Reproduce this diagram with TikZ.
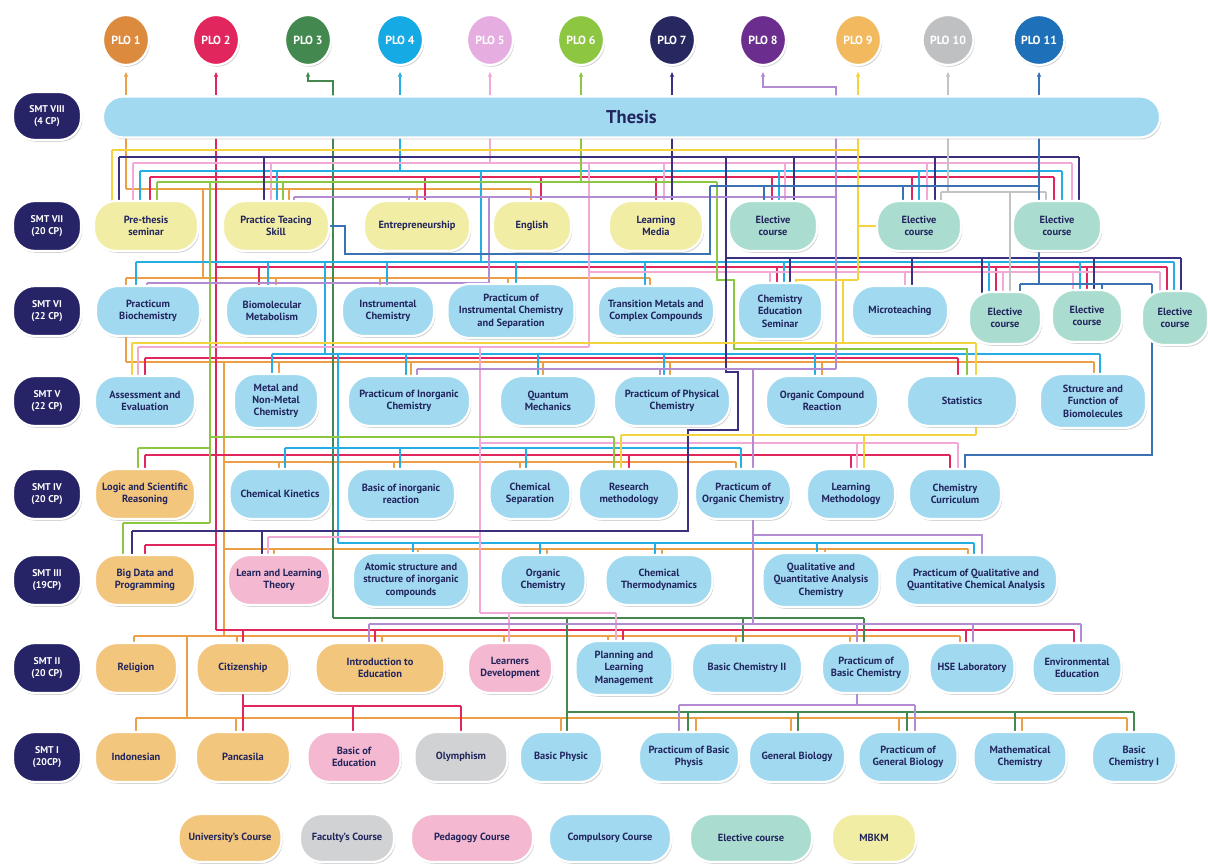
\documentclass[tikz,border=0pt]{standalone}
\usepackage{fontspec}
\setmainfont{PT Sans}
\usetikzlibrary{shapes.geometric,shadows,arrows.meta}

% fills
\definecolor{ink}{HTML}{23265E}
\definecolor{semC}{HTML}{262466}
\definecolor{compC}{HTML}{A0D9F0}
\definecolor{univC}{HTML}{F3C67E}
\definecolor{facC}{HTML}{D1D2D4}
\definecolor{pedC}{HTML}{F4B8D0}
\definecolor{elecC}{HTML}{AADDD0}
\definecolor{mbkmC}{HTML}{F2EDA4}
% learning-outcome colours
\definecolor{P1}{HTML}{DC8A3E}
\definecolor{P2}{HTML}{E0265C}
\definecolor{P3}{HTML}{43894F}
\definecolor{P4}{HTML}{15AAE3}
\definecolor{P5}{HTML}{E6AEE0}
\definecolor{P6}{HTML}{8DC641}
\definecolor{P7}{HTML}{26285F}
\definecolor{P8}{HTML}{6B2E8E}
\definecolor{P9}{HTML}{F3B95E}
\definecolor{P10}{HTML}{BFC0C2}
\definecolor{P11}{HTML}{1E71B8}
% connector colours
\definecolor{L1}{HTML}{EBA047}
\definecolor{L2}{HTML}{E0265C}
\definecolor{L3}{HTML}{43894F}
\definecolor{L4}{HTML}{24AEE4}
\definecolor{L5}{HTML}{F2A9D6}
\definecolor{L6}{HTML}{8DC641}
\definecolor{L7}{HTML}{3B2F80}
\definecolor{L8}{HTML}{B38BD3}
\definecolor{L9}{HTML}{F5D33F}
\definecolor{L10}{HTML}{C3C3C3}
\definecolor{L11}{HTML}{3A72B4}

\pgfdeclarelayer{bg}
\pgfsetlayers{bg,main}

% a course node: style, name, x, y, width, height, text
\newcommand\crs[7]{\node[#1, minimum width=#5pt, minimum height=#6pt] (#2) at (#3,#4) {#7};}
% a horizontal bus with drops into nodes: style, y, x from, x to, list x/node
\newcommand\busline[5]{%
  \draw[#1] (#3,#2) -- (#4,#2);
  \foreach \xx/\nn in {#5} {\draw[#1] (\xx,#2) |- (\nn.center);}}

\begin{document}
\begin{tikzpicture}[x=1pt,y=-1pt,
  ln/.style={line width=1.5pt},
  l1/.style={ln,draw=L1}, l2/.style={ln,draw=L2}, l3/.style={ln,draw=L3},
  l4/.style={ln,draw=L4}, l5/.style={ln,draw=L5}, l6/.style={ln,draw=L6},
  l7/.style={ln,draw=L7}, l8/.style={ln,draw=L8}, l9/.style={ln,draw=L9},
  l10/.style={ln,draw=L10}, l11/.style={ln,draw=L11},
  arr/.style={line width=1.2pt,-{Stealth[length=5pt,width=4.5pt]}},
  box/.style={rectangle, rounded corners=22pt, draw=white, line width=2.2pt,
    drop shadow={shadow xshift=1.2pt, shadow yshift=-1.8pt, opacity=0.32, fill=black!55},
    text=ink, align=center, inner sep=1pt,
    font=\fontsize{10.4}{12.4}\selectfont\bfseries},
  comp/.style={box, fill=compC},
  univ/.style={box, fill=univC},
  fac/.style={box, fill=facC},
  ped/.style={box, fill=pedC},
  elec/.style={box, fill=elecC},
  mbkm/.style={box, fill=mbkmC},
  sem/.style={box, fill=semC, text=white, minimum width=68pt, minimum height=50pt,
    font=\fontsize{9.8}{12}\selectfont\bfseries},
  plo/.style={ellipse, draw=white, line width=2.2pt, minimum width=46pt, minimum height=50pt,
    inner sep=0pt, text=white, font=\fontsize{11.8}{13}\selectfont\bfseries,
    drop shadow={shadow xshift=1.2pt, shadow yshift=-1.8pt, opacity=0.32, fill=black!55}}
]
\useasboundingbox (0,0) rectangle (1208,863);
\begin{pgfonlayer}{bg}
  \fill[white] (0,0) rectangle (1208,863);
\end{pgfonlayer}

% ---------------- learning outcomes ----------------
\node[plo, fill=P1]  (p1)  at (126,40)  {PLO 1};
\node[plo, fill=P2]  (p2)  at (216,40)  {PLO 2};
\node[plo, fill=P3]  (p3)  at (308,40)  {PLO 3};
\node[plo, fill=P4]  (p4)  at (400,40)  {PLO 4};
\node[plo, fill=P5]  (p5)  at (490,40)  {PLO 5};
\node[plo, fill=P6]  (p6)  at (581,40)  {PLO 6};
\node[plo, fill=P7]  (p7)  at (672,40)  {PLO 7};
\node[plo, fill=P8]  (p8)  at (763,40)  {PLO 8};
\node[plo, fill=P9]  (p9)  at (858,40)  {PLO 9};
\node[plo, fill=P10] (p10) at (948,40)  {PLO 10};
\node[plo, fill=P11] (p11) at (1039,40) {PLO 11};

% ---------------- semesters ----------------
\node[sem, minimum height=48pt] (s8) at (47,116) {SMT VIII\\(4 CP)};
\node[sem] (s7) at (47,226) {SMT VII\\(20 CP)};
\node[sem] (s6) at (47,311) {SMT VI\\(22 CP)};
\node[sem] (s5) at (47,401) {SMT V\\(22 CP)};
\node[sem] (s4) at (47,494) {SMT IV\\(20 CP)};
\node[sem] (s3) at (47,580) {SMT III\\(19CP)};
\node[sem] (s2) at (47,668) {SMT II\\(20 CP)};
\node[sem] (s1) at (47,757) {SMT I\\(20CP)};

% ---------------- thesis ----------------
\node[comp, rounded corners=20pt, minimum width=1057pt, minimum height=41pt,
  font=\fontsize{18.5}{21}\selectfont\bfseries] (th) at (631.5,117) {Thesis};

% ---------------- semester VII ----------------
\crs{mbkm}{a1}{146}{226}{104}{50}{Pre-thesis\\seminar}
\crs{mbkm}{a2}{276}{226}{106}{50}{Practice Teacing\\Skill}
\crs{mbkm}{a3}{417}{226}{106}{50}{Entrepreneurship}
\crs{mbkm}{a4}{532}{226}{78}{50}{English}
\crs{mbkm}{a5}{656}{226}{94}{50}{Learning\\Media}
\crs{elec}{a6}{773}{226}{88}{50}{Elective\\course}
\crs{elec}{a7}{919}{226}{84}{50}{Elective\\course}
\crs{elec}{a8}{1057}{226}{88}{50}{Elective\\course}

% ---------------- semester VI ----------------
\crs{comp}{b1}{148}{311}{104}{50}{Practicum\\Biochemistry}
\crs{comp}{b2}{272}{311}{92}{50}{Biomolecular\\Metabolism}
\crs{comp}{b3}{388}{311}{92}{50}{Instrumental\\Chemistry}
\crs{comp}{b4}{511}{311}{127}{54}{Practicum of\\Instrumental Chemistry\\and Separation}
\crs{comp}{b5}{656}{311}{116}{50}{Transition Metals and\\Complex Compounds}
\crs{comp}{b6}{780}{311}{84}{56}{Chemistry\\Education\\Seminar}
\crs{comp}{b7}{900}{311}{96}{50}{Microteaching}
\crs{elec}{b8}{1005}{318}{72}{52}{Elective\\course}
\crs{elec}{b9}{1087}{316}{70}{52}{Elective\\course}
\crs{elec}{b10}{1175}{318}{66}{54}{Elective\\course}

% ---------------- semester V ----------------
\crs{comp}{c1}{145}{401}{100}{50}{Assessment and\\Evaluation}
\crs{comp}{c2}{276}{401}{84}{54}{Metal and\\Non-Metal\\Chemistry}
\crs{comp}{c3}{409}{401}{122}{50}{Practicum of Inorganic\\Chemistry}
\crs{comp}{c4}{548}{401}{96}{50}{Quantum\\Mechanics}
\crs{comp}{c5}{672}{401}{116}{50}{Practicum of Physical\\Chemistry}
\crs{comp}{c6}{822}{401}{112}{50}{Organic Compound\\Reaction}
\crs{comp}{c7}{962}{401}{110}{50}{Statistics}
\crs{comp}{c8}{1093}{401}{106}{54}{Structure and\\Function of\\Biomolecules}

% ---------------- semester IV ----------------
\crs{univ}{d1}{145}{494}{100}{50}{Logic and Scientific\\Reasoning}
\crs{comp}{d2}{280}{494}{101}{50}{Chemical Kinetics}
\crs{comp}{d3}{401}{494}{108}{50}{Basic of inorganic\\reaction}
\crs{comp}{d4}{530}{494}{81}{50}{Chemical\\Separation}
\crs{comp}{d5}{629}{494}{100}{50}{Research\\methodology}
\crs{comp}{d6}{743}{494}{96}{50}{Practicum of\\Organic Chemistry}
\crs{comp}{d7}{851}{494}{88}{50}{Learning\\Methodology}
\crs{comp}{d8}{955}{494}{92}{50}{Chemistry\\Curriculum}

% ---------------- semester III ----------------
\crs{univ}{e1}{145}{580}{100}{50}{Big Data and\\Programming}
\crs{ped}{e2}{279}{580}{102}{50}{Learn and Learning\\Theory}
\crs{comp}{e3}{411}{580}{116}{54}{Atomic structure and\\structure of inorganic\\compounds}
\crs{comp}{e4}{543}{580}{85}{50}{Organic\\Chemistry}
\crs{comp}{e5}{659}{580}{107}{50}{Chemical\\Thermodynamics}
\crs{comp}{e6}{821}{580}{117}{54}{Qualitative and\\Quantitative Analysis\\Chemistry}
\crs{comp}{e7}{976}{580}{162}{50}{Practicum of Qualitative and\\Quantitative Chemical Analysis}

% ---------------- semester II ----------------
\crs{univ}{f1}{136}{668}{82}{50}{Religion}
\crs{univ}{f2}{243}{668}{93}{50}{Citizenship}
\crs{univ}{f3}{380}{668}{129}{50}{Introduction to\\Education}
\crs{ped}{f4}{510}{668}{84}{50}{Learners\\Development}
\crs{comp}{f5}{624}{668}{97}{54}{Planning and\\Learning\\Management}
\crs{comp}{f6}{747}{668}{110}{50}{Basic Chemistry II}
\crs{comp}{f7}{866}{668}{88}{50}{Practicum of\\Basic Chemistry}
\crs{comp}{f8}{972}{668}{85}{50}{HSE Laboratory}
\crs{comp}{f9}{1077}{668}{89}{50}{Environmental\\Education}

% ---------------- semester I ----------------
\crs{univ}{g1}{136}{757}{82}{50}{Indonesian}
\crs{univ}{g2}{243}{757}{94}{50}{Pancasila}
\crs{ped}{g3}{354}{757}{93}{50}{Basic of\\Education}
\crs{fac}{g4}{461}{757}{93}{50}{Olymphism}
\crs{comp}{g5}{561}{757}{82}{50}{Basic Physic}
\crs{comp}{g6}{689}{757}{100}{50}{Practicum of Basic\\Physis}
\crs{comp}{g7}{797}{757}{96}{50}{General Biology}
\crs{comp}{g8}{908}{757}{99}{50}{Practicum of\\General Biology}
\crs{comp}{g9}{1020}{757}{93}{50}{Mathematical\\Chemistry}
\crs{comp}{g10}{1134}{757}{84}{50}{Basic\\Chemistry I}

% ---------------- legend ----------------
\crs{univ}{k1}{230}{838}{103}{48}{University's Course}
\crs{fac}{k2}{347}{838}{94}{48}{Faculty's Course}
\crs{ped}{k3}{472}{838}{122}{48}{Pedagogy Course}
\crs{comp}{k4}{610}{838}{122}{48}{Compulsory Course}
\crs{elec}{k5}{751}{838}{122}{48}{Elective course}
\crs{mbkm}{k6}{874}{838}{84}{48}{MBKM}

% ================= connectors (behind the nodes) =================
\begin{pgfonlayer}{bg}
% thesis to learning outcomes
\foreach \n/\s in {p1/l1,p2/l2,p4/l4,p5/l5,p6/l6,p7/l7,p9/l9,p10/l10,p11/l11}
  \draw[\s,arr] (\n.south |- th.north) -- ([yshift=-6pt]\n.south);
\draw[l3,arr] (333,97) -- (333,81) -| ([yshift=-6pt]p3.south);
\draw[l8,arr] (836,97) -- (836,87) -| ([yshift=-6pt]p8.south);

% --- PLO 1 (orange)
\draw[l1] (126,138) -- (126,189);
\busline{l1}{189}{126}{531}{289/a2,417/a3,531/a4}
\draw[l1] (203,189) -- (203,278);
\busline{l1}{278}{126}{650}{126/b1,276/b2,380/b3,508/b4,650/b5}
\draw[l1] ([xshift=-22pt]b1.center) -- (126,362);
\busline{l1}{362}{126}{1094}{279/c2,411/c3,543/c4,670/c5,822/c6,1094/c8}
\draw[l1] (224,362) -- (224,636);
\busline{l1}{462}{224}{736}{279/d2,394/d3,520/d4,736/d6}
\busline{l1}{549}{224}{968}{274/e2,418/e3,547/e4,662/e5,825/e6,968/e7}
\busline{l1}{636}{134}{960}{134/f1,237/f2,382/f3,504/f4,608/f5,736/f6,850/f7,960/f8}
\draw[l1] (187,636) -- (187,718);
\busline{l1}{718}{136}{1127}{136/g1,236/g2,561/g5,696/g6,791/g7,899/g8,1022/g9,1127/g10}

% --- PLO 2 (red)
\draw[l2] (216,138) -- (216,630);
\busline{l2}{177}{150}{1054}{150/a1,425/a3,541/a4,656/a5,772/a6,912/a7,1054/a8}
\busline{l2}{267}{216}{1167}{259/b2,777/b6,996/b8,1087/b9,1167/b10}
\busline{l2}{358}{145}{958}{145/c1,958/c7}
\busline{l2}{455}{145}{950}{145/d1,629/d5,851/d7,950/d8}
\busline{l2}{545}{145}{216}{145/e1}
\busline{l2}{630}{216}{1074}{243/f2,375/f3,623/f5,966/f8,1074/f9}
\draw[l2] (f2.center) -- (g2.center);
\busline{l2}{706}{243}{461}{353/g3,461/g4}

% --- PLO 3 (green)
\draw[l3] (333,138) -- (333,618);
\busline{l3}{618}{333}{864}{743/f6,864/f7}
\draw[l3] (567,618) -- (567,712);
\busline{l3}{712}{567}{1134}{567/g5,688/g6,798/g7,907/g8,1015/g9,1134/g10}

% --- PLO 4 (cyan)
\draw[l4] (400,138) -- (400,171);
\busline{l4}{171}{140}{1062}{140/a1,277/a2,779/a6,919/a7,1062/a8}
\draw[l4] (481,171) -- (481,262);
\busline{l4}{262}{136}{1174}{136/b1,268/b2,387/b3,516/b4,645/b5,784/b6,989/b8,1080/b9,1174/b10}
\draw[l4] (325,262) -- (325,354);
\busline{l4}{354}{272}{1100}{272/c2,406/c3,538/c4,664/c5,815/c6,1100/c8}
\draw[l4] (338,354) -- (338,543);
\busline{l4}{448}{285}{741}{285/d2,400/d3,526/d4,741/d6}
\busline{l4}{543}{338}{974}{413/e3,540/e4,655/e5,817/e6,974/e7}

% --- PLO 5 (pink)
\draw[l5] (490,138) -- (490,163);
\busline{l5}{163}{133}{1072}{133/a1,271/a2,664/a5,785/a6,927/a7,1072/a8}
\draw[l5] (589,163) -- (589,347);
\busline{l5}{272}{589}{1160}{770/b6,905/b7,1003/b8,1073/b9,1160/b10}
\busline{l5}{347}{138}{589}{138/c1}
\draw[l5] (480,347) -- (480,613);
\busline{l5}{443}{480}{958}{857/d7,958/d8}
\busline{l5}{537}{268}{480}{268/e2}
\busline{l5}{613}{480}{616}{509/f4,616/f5}

% --- PLO 6 (lime)
\draw[l6] (581,138) -- (581,182);
\busline{l6}{182}{157}{717}{157/a1,283/a2}
\draw[l6] (210,182) -- (210,523);
\busline{l6}{437}{210}{614}{614/d5}
\busline{l6}{448}{138}{210}{138/d1}
\busline{l6}{523}{123}{210}{123/e1}
\draw[l6] (717,182) -- (717,280) -- (734,280) -- (734,349) -- (967,349) |- (c7.center);

% --- PLO 7 (navy)
\draw[l7] (672,138) |- (a5.center);
\busline{l7}{157}{119}{1079}{119/a1,264/a2,794/a6,935/a7,1079/a8}
\busline{l7}{258}{726}{1181}{790/b6,912/b7,982/b8,1094/b9,1181/b10}
\draw[l7] (726,157) -- (726,372) -- (738,372) -- (738,430) -- (688,430) -- (688,531) -- (132,531);
\draw[l7] (132,531) |- (e1.center);
\draw[l7] (262,531) |- (e2.center);

% --- PLO 8 (lavender)
\draw[l8] (836,138) -- (836,369);
\busline{l8}{197}{294}{836}{294/a2,409/a3}
\draw[l8] (489,197) |- (b4.center);
\busline{l8}{283}{147}{489}{147/b1}
\busline{l8}{369}{417}{836}{417/c3,660/c5,753/d6}
\draw[l8] ([xshift=10pt]d6.center) |- (982,535) |- (e7.center);
\draw[l8] ([xshift=10pt]d6.center) -- (753,624);
\busline{l8}{624}{369}{1081}{369/f3,857/f7,973/f8,1081/f9}
\draw[l8] ([xshift=-9pt]f7.center) -- (857,705);
\busline{l8}{705}{679}{915}{679/g6,915/g8}

% --- PLO 9 (yellow)
\draw[l9] (858,138) -- (858,280);
\busline{l9}{150}{112}{858}{112/a1}
\draw[l9] (858,226) -- (a7.center);
\draw[l9] (858,280) -- (796,280) |- (b6.center);
\draw[l9] (843,280) -- (843,343);
\busline{l9}{343}{132}{976}{132/c1,976/c7}
\draw[l9] ([xshift=14pt]c7.center) -- (976,435);
\busline{l9}{435}{621}{976}{621/d5,864/d7}

% --- PLO 10 (grey)
\draw[l10] (948,138) -- (948,192);
\busline{l10}{192}{941}{1046}{941/a7,1046/a8}
\draw[l10] (1010,192) |- (b8.center);

% --- PLO 11 (steel blue)
\draw[l11] (1039,138) |- (a8.center);
\busline{l11}{186}{710}{1039}{764/a6,903/a7}
\draw[l11] (710,186) -- (710,254) -- (345,254) |- (a2.center);
\draw[l11] ([xshift=-18pt]a8.center) -- (1039,284);
\busline{l11}{284}{1020}{1152}{1020/b8,1102/b9,1152/b10}
\draw[l11] ([xshift=-23pt]b10.center) |- (965,455) |- (d8.center);
\end{pgfonlayer}
\end{tikzpicture}
\end{document}
